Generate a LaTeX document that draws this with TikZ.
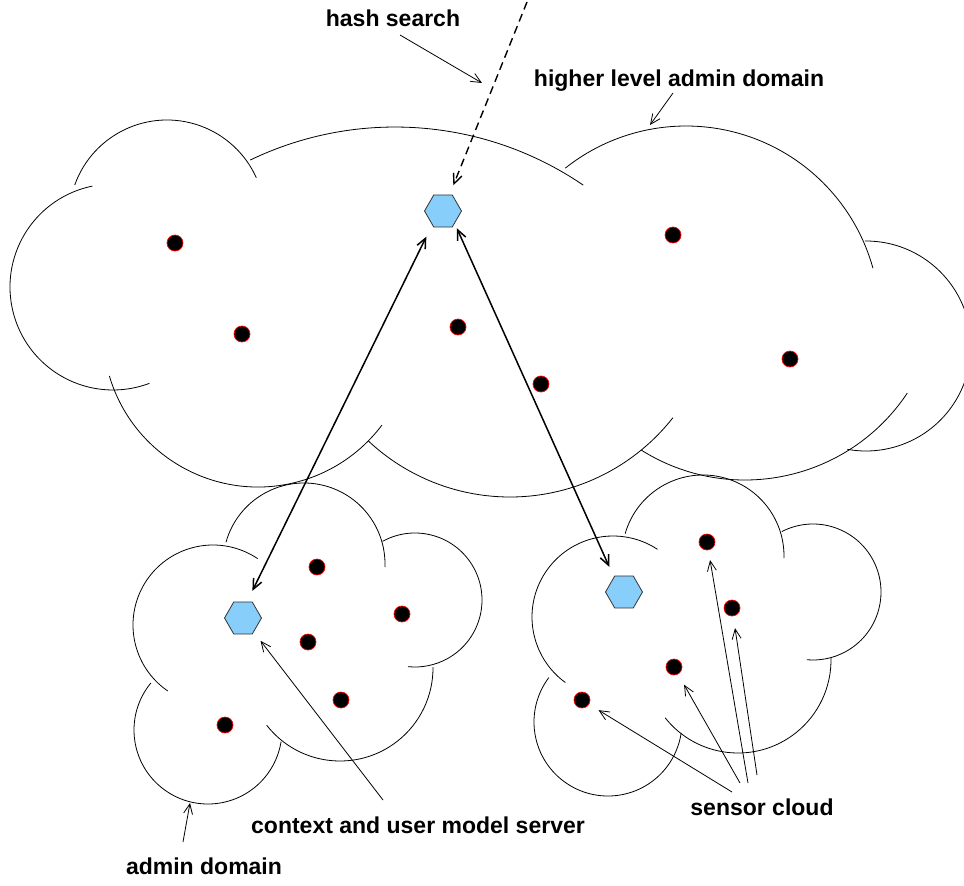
\documentclass[tikz,border=0pt]{standalone}
\usepackage{fontspec}
\setmainfont{Liberation Sans}
\usetikzlibrary{arrows.meta,shapes.geometric}
\definecolor{hexblue}{RGB}{135,206,250}
\newcommand\cloudarc[5]{\draw[cloudline] (#1,#2) ++(#4:#3) arc[start angle=#4, end angle=#5, radius=#3];}
\begin{document}
\begin{tikzpicture}[x=1pt,y=-1pt,
  cloudline/.style={line width=0.8pt},
  sensor/.style={circle,fill=black,draw=red,line width=0.7pt,minimum size=16pt,inner sep=0pt},
  server/.style={regular polygon,regular polygon sides=6,minimum size=37pt,inner sep=0pt,fill=hexblue,draw=black!80,line width=0.8pt},
  lbl/.style={font=\fontsize{23}{28}\selectfont\bfseries,inner sep=0pt,anchor=base},
  tip/.style={-{Straight Barb[length=10pt,width=9pt]}},
  pointer/.style={tip,line width=0.8pt},
  link/.style={{Straight Barb[length=10pt,width=9pt]}-{Straight Barb[length=10pt,width=9pt]},line width=1.5pt},
  search/.style={tip,line width=1.4pt,dash pattern=on 8pt off 5pt}]
\path[use as bounding box] (0,0) rectangle (964,886);

% higher level admin domain cloud
\cloudarc{167}{218}{98}{-160.3}{-24.3}
\cloudarc{113}{287}{103}{-101.6}{-290.7}
\cloudarc{258}{332}{155}{163.5}{36.9}
\cloudarc{510}{290}{207}{133.1}{38.1}
\cloudarc{745}{285}{195}{122.2}{33.7}
\cloudarc{866}{346}{105}{-90.6}{100.2}
\cloudarc{686}{320}{194}{-128.5}{-15.5}
\cloudarc{395}{461}{334}{-115.7}{-55.7}

% admin domain cloud
\cloudarc{304}{564}{81}{-164.4}{2.2}
\cloudarc{213}{625}{80}{-56.1}{-235.5}
\cloudarc{208}{730}{74}{219.5}{9.1}
\cloudarc{340}{668}{93}{142}{-0.6}
\cloudarc{415}{600}{67}{-118.9}{96}

% sensor cloud
\cloudarc{703}{556}{81}{-164}{1.5}
\cloudarc{613}{617}{81}{-56.7}{-234}
\cloudarc{608}{722}{74}{216.9}{8.5}
\cloudarc{738}{660}{93}{141.6}{-1.2}
\cloudarc{813}{592}{68}{-117.3}{95.2}

% sensors
\node[sensor] (u1) at (175,243) {};
\node[sensor] (u2) at (242,334) {};
\node[sensor] (u3) at (458,327) {};
\node[sensor] (u4) at (541,384) {};
\node[sensor] (u5) at (673,235) {};
\node[sensor] (u6) at (790,359) {};
\node[sensor] (l1) at (317,567) {};
\node[sensor] (l2) at (402,614) {};
\node[sensor] (l3) at (308,642) {};
\node[sensor] (l4) at (341,700) {};
\node[sensor] (l5) at (225,725) {};
\node[sensor] (r1) at (707,542) {};
\node[sensor] (r2) at (732,608) {};
\node[sensor] (r3) at (674,667) {};
\node[sensor] (r4) at (582,700) {};

% servers
\node[server] (hA) at (443,211) {};
\node[server] (hB) at (243,618) {};
\node[server] (hC) at (624,592) {};

% labels
\node[lbl] (hs) at (393,27) {hash search};
\node[lbl] (hl) at (679,86) {higher level admin domain};
\node[lbl] (cu) at (418,833) {context and user model server};
\node[lbl] (sc) at (762,815) {sensor cloud};
\node[lbl] (ad) at (204,874) {admin domain};

% connectors
\coordinate (top) at (527,2);
\draw[search, shorten >=10pt] (top) -- (hA);
\draw[link, shorten <=13pt, shorten >=12pt] (hA.232) -- (hB.76);
\draw[link, shorten <=5pt, shorten >=11pt] (hA.313) -- (hC.124);

\coordinate (hsS) at (400,35);
\coordinate (hsE) at (482,83);
\draw[pointer] (hsS) -- (hsE);
\coordinate (hlS) at (673,93);
\coordinate (hlE) at (650,125);
\draw[pointer] (hlS) -- (hlE);
\coordinate (cuS) at (383,800);
\draw[pointer, shorten >=11pt] (cuS) -- (hB);
\coordinate (adS) at (183,842);
\coordinate (adE) at (190,803);
\draw[pointer] (adS) -- (adE);
\coordinate (sc1) at (732,792);
\coordinate (sc2) at (740,783);
\coordinate (sc3) at (748,783);
\coordinate (sc4) at (757,775);
\draw[pointer, shorten >=11pt] (sc1) -- (r4);
\draw[pointer, shorten >=12pt] (sc2) -- (r3);
\draw[pointer, shorten >=10pt] (sc3) -- (r1);
\draw[pointer, shorten >=12pt] (sc4) -- (r2);
\end{tikzpicture}
\end{document}
